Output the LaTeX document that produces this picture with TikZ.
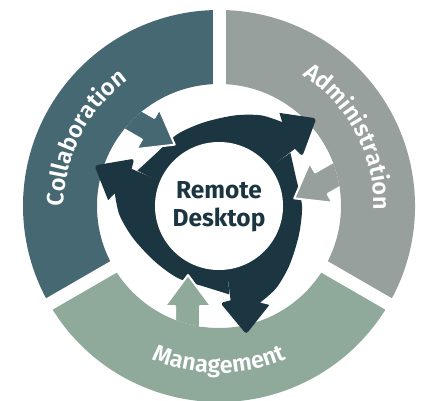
\documentclass[tikz,border=0pt]{standalone}
\usepackage{fontspec}
\setmainfont{Fira Sans}
\newfontfamily\ringfam{Fira Sans SemiBold}
\usetikzlibrary{decorations.text}
\definecolor{collab}{RGB}{70,104,114}
\definecolor{admin}{RGB}{152,160,157}
\definecolor{manage}{RGB}{143,169,155}
\definecolor{deskdark}{RGB}{27,53,65}
\newcommand{\ringfont}{\ringfam\fontsize{23.5}{23.5}\selectfont}

\begin{document}
\begin{tikzpicture}[x=1pt, y=1pt,
  sector/.style={fill=#1},
  ringlabel/.style={decorate, decoration={text along path, text align=center,
                    text color=white, text={|\ringfont|#1}}},
  inarrow/.style={fill=#1, draw=white, line width=2pt, line join=round}]
\useasboundingbox (-219,-194) rectangle (206,206);
% outer ring
\foreach \col/\a in {admin/-30, collab/90, manage/210}
  \fill[sector=\col] (\a:196) arc[start angle=\a, delta angle=120, radius=196]
    -- ({\a+120}:122) arc[start angle=\a+120, delta angle=-120, radius=122] -- cycle;
\foreach \a in {90,210,330}
  \draw[white, line width=13pt] (\a:105) -- (\a:200);
% dark cycle
\foreach \r in {0,-120,-240}
  \fill[deskdark, rotate=\r] (160:40)
    -- plot[smooth] coordinates {(156.6:89) (140:82) (120:83) (100:85) (80:92) (65:100) (53:105)}
    -- (57:111) [rounded corners=3pt] -- (42:131) -- (30.8:97) [sharp corners] -- (37:95)
    -- (37:40) arc[start angle=37, end angle=160, radius=40] -- cycle;
\fill[white] (0,0) circle[radius=64];
% arrows into the cycle
\begin{scope}
  \clip (0,0) circle[radius=122];
  \foreach \col/\r in {manage/0, admin/120, collab/-120}
    \draw[inarrow=\col, rotate=\r] (-31,-69) -- (-8,-100) -- (-19,-100) -- (-19,-150)
      -- (-44,-150) -- (-44,-100) -- (-54,-100) -- cycle;
\end{scope}
\path[ringlabel=Collaboration] (210:155) arc[start angle=210, end angle=96, radius=155];
\path[ringlabel=Administration] (62:155) arc[start angle=62, end angle=-6, radius=155];
\path[ringlabel=Management] (228:167) arc[start angle=228, end angle=312, radius=167];
\node[font=\fontsize{24.5}{28}\selectfont\bfseries, text=deskdark, align=center]
  (desk) at (0,-1) {Remote\\Desktop};
\end{tikzpicture}
\end{document}
